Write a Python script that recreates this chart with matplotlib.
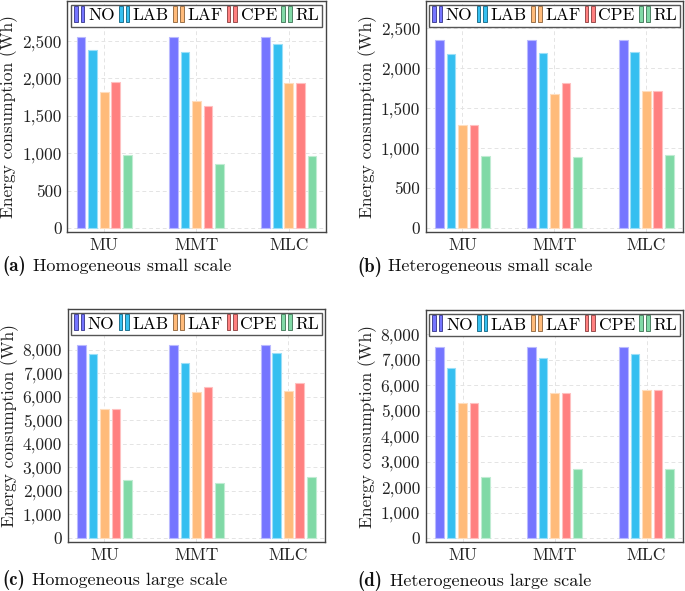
# -*- coding: utf-8 -*-
"""
Energy consumption per placement strategy, four scenarios (2x2 grid).
"""

import matplotlib
matplotlib.use('Agg')
import matplotlib.pyplot as plt
import matplotlib.colors as mcolors
from matplotlib.patches import Rectangle
from matplotlib.legend_handler import HandlerBase
from matplotlib.ticker import FuncFormatter
import numpy as np

# Données
categories = ['MU', 'MMT', 'MLC']
methods = ['NO', 'LAB', 'LAF', 'CPE', 'RL']
colors = ['#7575FF', '#35BFF0', '#FFBB7A', '#FF8080', '#80D9A6']

# rows = methods, columns = categories
hom_small = [[2560, 2560, 2560],
             [2375, 2355, 2465],
             [1815, 1700, 1940],
             [1955, 1630, 1940],
             [970, 860, 955]]
het_small = [[2350, 2350, 2350],
             [2180, 2195, 2205],
             [1290, 1675, 1720],
             [1290, 1810, 1720],
             [900, 885, 915]]
hom_large = [[8210, 8210, 8210],
             [7830, 7430, 7860],
             [5490, 6210, 6270],
             [5490, 6410, 6610],
             [2470, 2355, 2610]]
het_large = [[7515, 7515, 7515],
             [6690, 7085, 7215],
             [5295, 5700, 5805],
             [5295, 5700, 5805],
             [2405, 2730, 2720]]

panel_letters = ['(a)', '(b)', '(c)', '(d)']
panel_titles = ['Homogeneous small scale', 'Heterogeneous small scale',
                'Homogeneous large scale', 'Heterogeneous large scale']

plt.rcParams['font.family'] = ['cmr10', 'DejaVu Serif']
plt.rcParams['axes.formatter.use_mathtext'] = True

W, H = 685, 591
fig = plt.figure(figsize=(W / 100, H / 100), dpi=100)


def px_axes(left, top, right, bottom):
    return fig.add_axes([left / W, 1 - bottom / H, (right - left) / W, (bottom - top) / H])


class TwoBarHandler(HandlerBase):
    """Icône de légende façon pgfplots : deux petites barres."""
    def create_artists(self, legend, orig_handle, xdescent, ydescent,
                       width, height, fontsize, trans):
        fc = orig_handle.get_facecolor()
        ec = tuple(c * 0.6 for c in mcolors.to_rgb(fc))
        bw = width * 0.36
        arts = []
        for x0 in (0, width - bw):
            r = Rectangle((x0 - xdescent, -ydescent - 1), bw, height + 3,
                          facecolor=fc, edgecolor=ec, linewidth=0.7,
                          transform=trans)
            arts.append(r)
        return arts


# positions des axes en pixels (gauche, haut, droite, bas)
layouts = [(67.3, 1, 325.7, 232), (425.7, 1, 683, 232),
           (67.7, 309.3, 325, 542), (425.7, 310, 683.3, 542)]
ylims = [(-55, 3035), (-50, 2842), (-170, 9730), (-144, 8954)]
ysteps = [500, 500, 1000, 1000]
yticks_max = [2500, 2500, 8000, 8000]
datasets = [hom_small, het_small, hom_large, het_large]

x = np.arange(len(categories))
step = 0.125
bw = 0.094
fs = 12.5

for i, data in enumerate(datasets):
    ax = px_axes(*layouts[i])
    ax.set_axisbelow(True)
    handles = []
    for j, (m, c) in enumerate(zip(methods, colors)):
        edge = mcolors.to_rgb(c)
        edge = tuple(0.5 * e + 0.5 for e in edge)
        b = ax.bar(x + (j - 2) * step, data[j], width=bw, color=c,
                   edgecolor=edge, linewidth=0.8, label=m)
        handles.append(b.patches[0])

    ax.set_xlim(-0.4, 2.4)
    ax.set_ylim(*ylims[i])
    ax.set_xticks(x)
    ax.set_xticklabels(categories, fontsize=fs)
    ax.set_yticks(np.arange(0, yticks_max[i] + 1, ysteps[i]))
    ax.yaxis.set_major_formatter(FuncFormatter(lambda v, p: f'{int(v):,}'))
    ax.tick_params(axis='both', length=0, labelsize=fs, colors='#222222')
    ax.tick_params(axis='y', pad=4)
    ax.tick_params(axis='x', pad=4)
    ax.grid(True, linestyle=(0, (4, 3)), color='#e4e4e4', linewidth=0.7)
    for sp in ax.spines.values():
        sp.set_color('#444444')
        sp.set_linewidth(1.0)
    ax.set_ylabel('Energy consumption (Wh)', fontsize=fs, color='#222222')
    ax.yaxis.set_label_coords(-0.19, 0.5)

    leg = ax.legend(handles, methods, loc='upper center', ncol=5,
                    bbox_to_anchor=(0.5, 0.99), fontsize=fs,
                    handler_map={Rectangle: TwoBarHandler()},
                    handlelength=0.6, handleheight=0.65, handletextpad=0.2,
                    columnspacing=0.25, borderpad=0.18, borderaxespad=0.1,
                    frameon=True, fancybox=False, framealpha=1)
    leg.get_frame().set_edgecolor('#555555')
    leg.get_frame().set_linewidth(1.0)

# Légendes des sous-figures
captions = [(2, 33, 266), (357, 388, 266.7), (2, 32, 580), (357, 390, 581)]
for (xl, xt, yc), lett, title in zip(captions, panel_letters, panel_titles):
    fig.text(xl / W, 1 - yc / H, lett, fontsize=13.5, family='cmb10',
             ha='left', va='center', color='#111111')
    fig.text(xt / W, 1 - yc / H, title, fontsize=13,
             ha='left', va='center', color='#111111')

fig.savefig('out.png', dpi=100)
plt.close(fig)
